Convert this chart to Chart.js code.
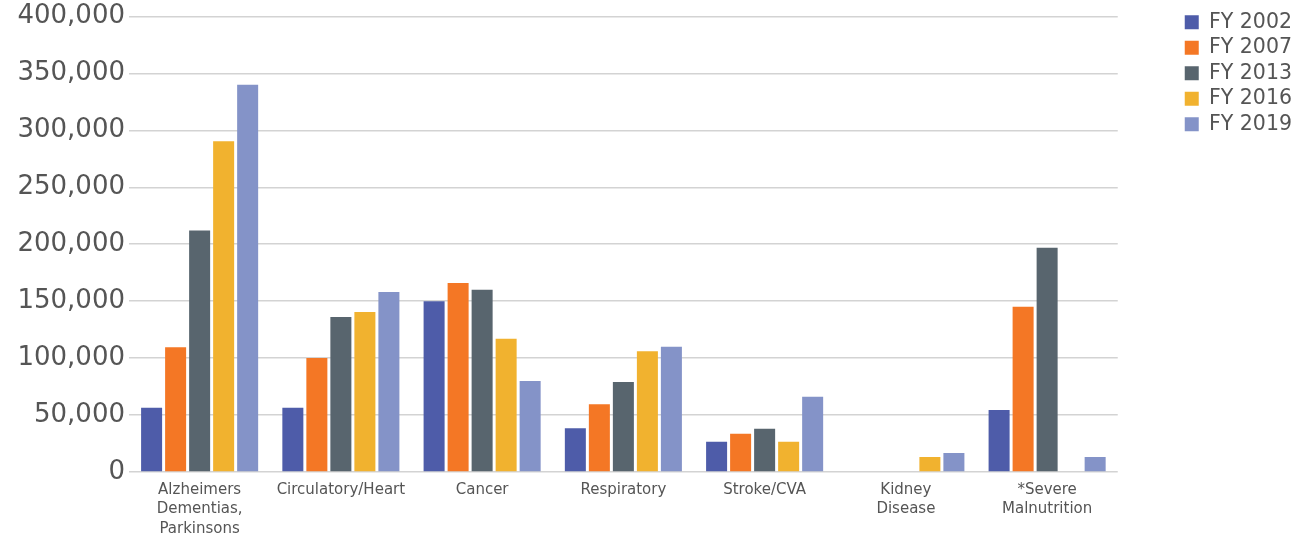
<!DOCTYPE html>
<html>
<head>
<meta charset="utf-8">
<script src="https://cdn.jsdelivr.net/npm/chart.js@4.4.1/dist/chart.umd.min.js"></script>
<style>
  html, body { margin: 0; padding: 0; background: #fff; }
  #wrap { width: 1297px; height: 533px; }
</style>
</head>
<body>
<div id="wrap"><canvas id="causes-chart"></canvas></div>
<script>
// categories and values
var categories = [
    ["Alzheimers", "Dementias,", "Parkinsons"],
    "Circulatory/Heart",
    "Cancer",
    "Respiratory",
    "Stroke/CVA",
    ["Kidney", "Disease"],
    ["*Severe", "Malnutrition"]
];
var seriesNames = ["FY 2002", "FY 2007", "FY 2013", "FY 2016", "FY 2019"];
var fy2002 = [56500, 56500, 150000, 38500, 26500, 0, 54500];
var fy2007 = [109500, 100000, 166000, 59500, 33500, 0, 145000];
var fy2013 = [212000, 136000, 160000, 79000, 38000, 0, 197000];
var fy2016 = [290500, 140500, 117000, 106000, 26500, 13200, 0];
var fy2019 = [340000, 158000, 80000, 110000, 66000, 16700, 13200];
var yTicks = [0, 50000, 100000, 150000, 200000, 250000, 300000, 350000, 400000];

var colors = ["#4e5ca9", "#f47725", "#58656e", "#f1b22f", "#8493c8"];
var allValues = [fy2002, fy2007, fy2013, fy2016, fy2019];

var datasets = [];
seriesNames.forEach(function (name, i) {
    datasets.push({
        label: name,
        data: allValues[i],
        backgroundColor: colors[i],
        categoryPercentage: 0.85,
        barPercentage: 0.875
    });
});

var textColor = "#555555";
var ctx = document.getElementById('causes-chart').getContext('2d');
var myChart = new Chart(ctx, {
    type: 'bar',
    data: {
        labels: categories,
        datasets: datasets
    },
    options: {
        responsive: true,
        maintainAspectRatio: false,
        animation: false,
        layout: { padding: { top: 7, right: -5, left: 0, bottom: 0 } },
        plugins: {
            tooltip: { enabled: false },
            legend: {
                position: 'right',
                align: 'start',
                labels: {
                    boxWidth: 14,
                    boxHeight: 14,
                    padding: 5,
                    color: textColor,
                    font: { family: "DejaVu Sans", size: 20.5 }
                }
            }
        },
        scales: {
            x: {
                grid: { display: false, drawTicks: false },
                border: { display: false },
                ticks: {
                    color: textColor,
                    maxRotation: 0,
                    autoSkip: false,
                    padding: 9,
                    font: { family: "DejaVu Sans", size: 15, lineHeight: 1.27 }
                },
                afterFit: function (scale) { scale.height = 61; }
            },
            y: {
                min: 0,
                max: 400000,
                afterBuildTicks: function (scale) {
                    scale.ticks = yTicks.map(function (v) { return { value: v }; });
                },
                grid: { color: "#d3d3d3", lineWidth: 1.5, drawTicks: false },
                border: { display: false },
                ticks: {
                    color: textColor,
                    padding: 4,
                    font: { family: "DejaVu Sans", size: 26, lineHeight: 0.96 },
                    callback: function (v) { return v.toLocaleString('en-US'); }
                },
                afterFit: function (scale) { scale.width = 129; }
            },
            // empty spacer between plot and legend
            gap: {
                type: 'linear',
                position: 'right',
                grid: { display: false },
                border: { display: false },
                ticks: { display: false },
                afterFit: function (scale) { scale.width = 62; }
            }
        }
    }
});
</script>
</body>
</html>
